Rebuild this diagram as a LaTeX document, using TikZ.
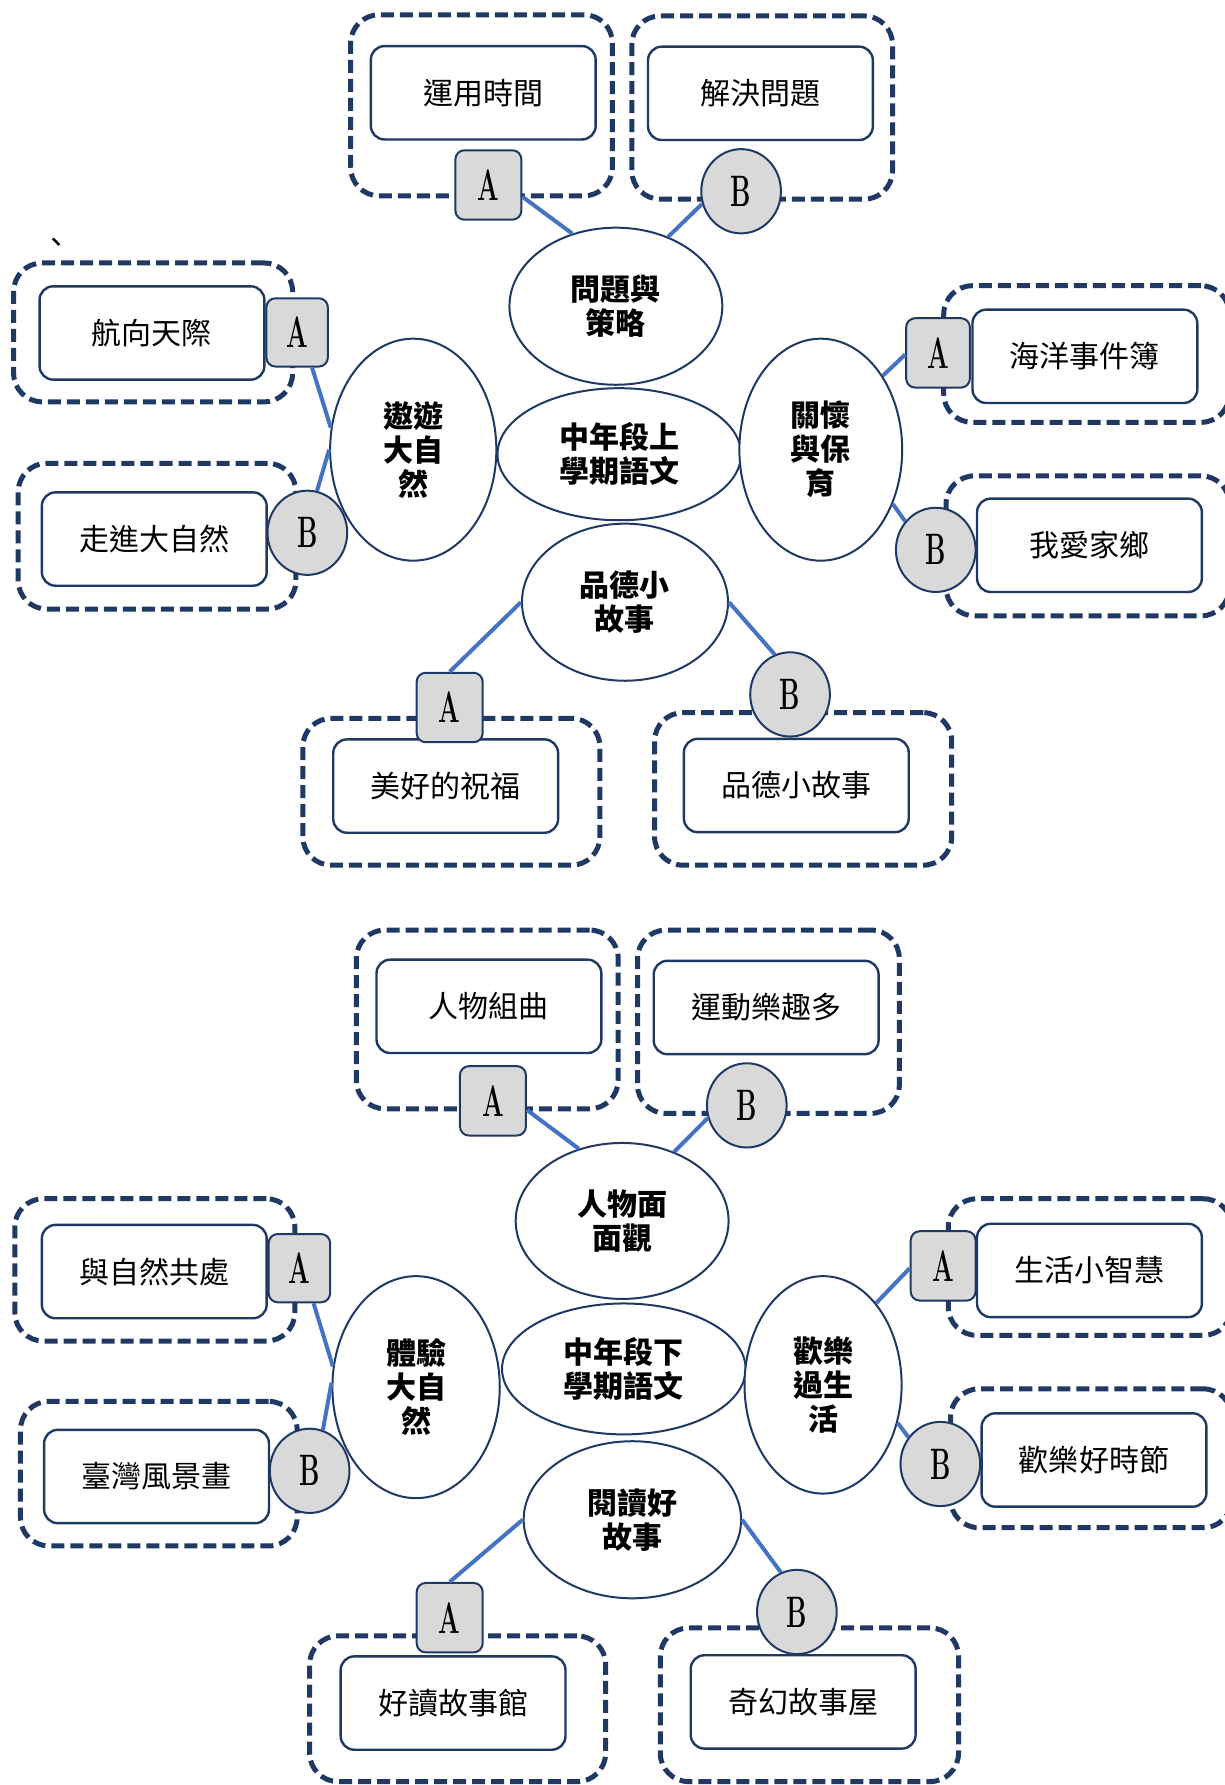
\documentclass[tikz,border=0pt]{standalone}
\usepackage{graphicx}
\usepackage{fontspec}
\newfontfamily\cjk{Noto Sans CJK TC}
\usetikzlibrary{shapes.geometric}
\definecolor{navy}{RGB}{32,56,100}
\definecolor{linkblue}{RGB}{68,114,196}
\definecolor{tagfill}{RGB}{217,217,217}
\newcommand{\tagletter}[1]{\scalebox{0.58}[1]{\bfseries #1}}

\begin{document}
\begin{tikzpicture}[scale=0.2]
\tikzstyle{every node}+=[inner sep=0pt]
\tikzstyle{unitbox}=[draw=navy, line width=2.5pt, dash pattern=on 6.5pt off 3pt, rounded corners=0.5cm]
\tikzstyle{lesson}=[draw=navy, line width=1.2pt, fill=white, rounded corners=0.24cm, minimum width=3.95cm, minimum height=1.64cm, font=\cjk\fontsize{15}{17}\selectfont]
\tikzstyle{topic}=[draw=navy, line width=1pt, fill=white, ellipse, align=center, font=\cjk\bfseries\fontsize{15}{17}\selectfont]
\tikzstyle{tagA}=[draw=navy, line width=1pt, fill=tagfill, rounded corners=0.16cm, minimum width=1.16cm, minimum height=1.22cm, font=\fontsize{22}{22}\selectfont]
\tikzstyle{tagB}=[draw=navy, line width=1pt, fill=tagfill, ellipse, minimum width=1.4cm, minimum height=1.48cm, font=\fontsize{22}{22}\selectfont]
\tikzstyle{link}=[draw=linkblue, line width=2pt]
\useasboundingbox (0,0) rectangle (107.6,-156.8);
% upper map
\node[unitbox, minimum width=4.6cm, minimum height=3.18cm] (dTime) at (42.3,-9.25) {};
\node[unitbox, minimum width=4.58cm, minimum height=3.22cm] (dSolve) at (66.95,-9.45) {};
\node[unitbox, minimum width=4.9cm, minimum height=2.44cm] (dSky) at (13.45,-29.2) {};
\node[unitbox, minimum width=4.88cm, minimum height=2.56cm] (dNature) at (13.8,-47.1) {};
\node[unitbox, minimum width=5.02cm, minimum height=2.4cm] (dOcean) at (95.45,-31.1) {};
\node[unitbox, minimum width=4.98cm, minimum height=2.46cm] (dHome) at (95.55,-47.95) {};
\node[unitbox, minimum width=5.22cm, minimum height=2.58cm] (dBless) at (39.65,-69.55) {};
\node[unitbox, minimum width=5.22cm, minimum height=2.68cm] (dMoral) at (70.55,-69.3) {};
\node[font=\cjk\fontsize{15}{15}\selectfont] (tick) at (4.95,-21.6) {、};
\node[lesson] (time) at (42.45,-8.15) {運用時間};
\node[lesson] (solve) at (66.8,-8.2) {解決問題};
\node[lesson] (sky) at (13.35,-29.25) {航向天際};
\node[lesson] (nature) at (13.55,-47.35) {走進大自然};
\node[lesson] (ocean) at (95.3,-31.3) {海洋事件簿};
\node[lesson] (home) at (95.7,-47.9) {我愛家鄉};
\node[lesson] (bless) at (39.15,-69.05) {美好的祝福};
\node[lesson] (moral) at (69.95,-69.0) {品德小故事};
\node[tagA] (tTime) at (42.9,-16.25) {\tagletter{A}};
\node[tagB] (tSolve) at (65.1,-16.8) {\tagletter{B}};
\node[tagA, minimum width=1.08cm, minimum height=1.2cm] (tSky) at (26.1,-29.2) {\tagletter{A}};
\node[tagB] (tNature) at (27.0,-46.8) {\tagletter{B}};
\node[tagA, minimum width=1.12cm] (tOcean) at (82.4,-31.0) {\tagletter{A}};
\node[tagB] (tHome) at (82.2,-48.3) {\tagletter{B}};
\node[tagA] (tBless) at (39.5,-62.15) {\tagletter{A}};
\node[tagB] (tMoral) at (69.4,-61.0) {\tagletter{B}};
\node[topic, minimum width=4.28cm, minimum height=2.32cm] (core) at (54.4,-39.9) {中年段上\\學期語文};
\node[topic, minimum width=3.74cm, minimum height=2.76cm] (plan) at (54.1,-26.9) {問題與\\策略};
\node[topic, minimum width=2.92cm, minimum height=3.9cm] (travel) at (36.3,-39.5) {遨遊\\大自\\然};
\node[topic, minimum width=2.86cm, minimum height=3.9cm] (care) at (72.1,-39.5) {關懷\\與保\\育};
\node[topic, minimum width=3.62cm, minimum height=2.76cm] (virtue) at (54.9,-52.9) {品德小\\故事};
\draw[link] (tTime.-19) -- (plan.121);
\draw[link] (tSolve.198) -- (plan.53);
\draw[link] (tSky.-67) -- (travel.165);
\draw[link] (tNature.77) -- (travel.180);
\draw[link] (tOcean.183) -- (care.50);
\draw[link] (tHome.137) -- (care.-37);
\draw[link] (tBless.90) -- (virtue.180);
\draw[link] (tMoral.111) -- (virtue.0);
% lower map
\node[unitbox, minimum width=4.6cm, minimum height=3.14cm] (dPeople) at (42.8,-89.55) {};
\node[unitbox, minimum width=4.6cm, minimum height=3.22cm] (dSport) at (67.5,-89.75) {};
\node[unitbox, minimum width=4.92cm, minimum height=2.5cm] (dCoexist) at (13.6,-111.55) {};
\node[unitbox, minimum width=4.86cm, minimum height=2.54cm] (dTaiwan) at (13.95,-129.45) {};
\node[unitbox, minimum width=4.98cm, minimum height=2.4cm] (dWisdom) at (95.75,-111.3) {};
\node[unitbox, minimum width=4.94cm, minimum height=2.44cm] (dFestival) at (95.85,-128.1) {};
\node[unitbox, minimum width=5.2cm, minimum height=2.56cm] (dReadhall) at (40.2,-150.1) {};
\node[unitbox, minimum width=5.24cm, minimum height=2.7cm] (dFantasy) at (71.1,-149.75) {};
\node[lesson] (people) at (42.95,-88.4) {人物組曲};
\node[lesson] (sport) at (67.3,-88.5) {運動樂趣多};
\node[lesson] (coexist) at (13.55,-111.7) {與自然共處};
\node[lesson] (taiwan) at (13.75,-129.7) {臺灣風景畫};
\node[lesson] (wisdom) at (95.7,-111.6) {生活小智慧};
\node[lesson] (festival) at (96.1,-128.25) {歡樂好時節};
\node[lesson] (readhall) at (39.8,-149.6) {好讀故事館};
\node[lesson] (fantasy) at (70.55,-149.5) {奇幻故事屋};
\node[tagA] (tPeople) at (43.3,-96.7) {\tagletter{A}};
\node[tagB] (tSport) at (65.6,-97.1) {\tagletter{B}};
\node[tagA, minimum width=1.08cm, minimum height=1.2cm] (tCoexist) at (26.3,-111.4) {\tagletter{A}};
\node[tagB] (tTaiwan) at (27.2,-129.2) {\tagletter{B}};
\node[tagA, minimum width=1.14cm] (tWisdom) at (82.85,-111.2) {\tagletter{A}};
\node[tagB] (tFestival) at (82.6,-128.6) {\tagletter{B}};
\node[tagA] (tReadhall) at (39.5,-142.1) {\tagletter{A}};
\node[tagB] (tFantasy) at (70.0,-141.6) {\tagletter{B}};
\node[topic, minimum width=4.28cm, minimum height=2.3cm] (core2) at (54.8,-120.25) {中年段下\\學期語文};
\node[topic, minimum width=3.74cm, minimum height=2.74cm] (face) at (54.65,-107.25) {人物面\\面觀};
\node[topic, minimum width=2.94cm, minimum height=3.9cm] (explore) at (36.55,-121.85) {體驗\\大自\\然};
\node[topic, minimum width=2.76cm, minimum height=3.82cm] (joy) at (72.3,-121.65) {歡樂\\過生\\活};
\node[topic, minimum width=3.82cm, minimum height=2.76cm] (story) at (55.55,-133.5) {閱讀好\\故事};
\draw[link] (tPeople.-15) -- (face.121);
\draw[link] (tSport.198) -- (face.53);
\draw[link] (tCoexist.-68) -- (explore.166);
\draw[link] (tTaiwan.72) -- (explore.177);
\draw[link] (tWisdom.184) -- (joy.57);
\draw[link] (tFestival.140) -- (joy.-27);
\draw[link] (tReadhall.90) -- (story.180);
\draw[link] (tFantasy.112) -- (story.0);
\end{tikzpicture}
\end{document}
